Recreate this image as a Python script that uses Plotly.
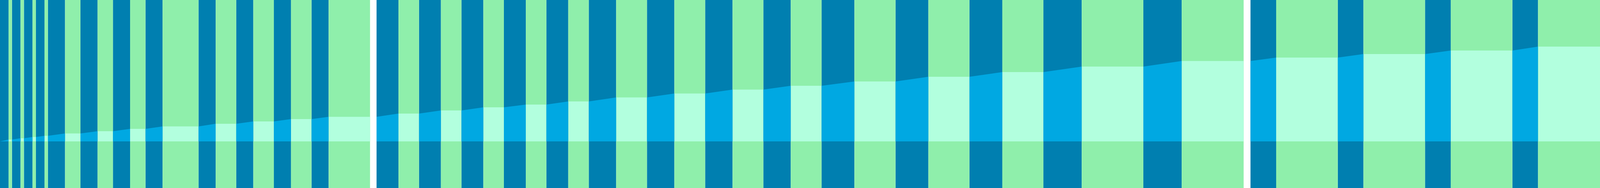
import plotly.graph_objects as go

# dark columns (start, end) and light columns (start, end, band height)
dark_start = [0, 35, 70, 105, 140, 235, 330, 425, 580, 690, 800, 910, 1100, 1224, 1348,
              1472, 1596, 1720, 1890, 2060, 2230, 2400, 2616, 2832, 3048, 3340, 3653, 3908,
              4163, 4418]
dark_end = [25, 60, 95, 130, 190, 285, 380, 475, 630, 740, 850, 960, 1164, 1288, 1412,
            1536, 1660, 1800, 1970, 2140, 2310, 2496, 2712, 2928, 3160, 3452, 3728, 3983,
            4238, 4493]
light_start = [25, 60, 95, 130, 190, 285, 380, 475, 630, 740, 850, 960, 1164, 1288, 1412,
               1536, 1660, 1800, 1970, 2140, 2310, 2496, 2712, 2928, 3160, 3452, 3728, 3983,
               4238, 4493]
light_end = [35, 70, 105, 140, 235, 330, 425, 580, 690, 800, 910, 1081, 1224, 1348, 1472,
             1596, 1720, 1890, 2060, 2230, 2400, 2616, 2832, 3048, 3340, 3633, 3908, 4163,
             4418, 4674]
band_height = [4.7, 8, 11.3, 14.3, 20.3, 26, 32, 38.3, 45, 51, 57, 62.7, 71, 79, 87,
               94, 102, 112.3, 122.3, 132.3, 142, 153, 165, 177, 191, 205.3, 214, 223,
               232, 242]

Y_MIN, Y_MAX = -119, 361

GREEN = "#8fefab"
CYAN = "#b2ffde"
DARK = "#007fb0"
BRIGHT = "#00a8e2"

fig = go.Figure()

# full height columns
fig.add_trace(go.Bar(
    x=[(a + b) / 2 for a, b in zip(dark_start, dark_end)],
    width=[b - a for a, b in zip(dark_start, dark_end)],
    y=[Y_MAX - Y_MIN] * len(dark_start),
    base=Y_MIN,
    marker=dict(color=DARK, line=dict(width=0)),
))
fig.add_trace(go.Bar(
    x=[(a + b) / 2 for a, b in zip(light_start, light_end)],
    width=[b - a for a, b in zip(light_start, light_end)],
    y=[Y_MAX - Y_MIN] * len(light_start),
    base=Y_MIN,
    marker=dict(color=GREEN, line=dict(width=0)),
))

# band inside the light columns
fig.add_trace(go.Bar(
    x=[(a + b) / 2 for a, b in zip(light_start, light_end)],
    width=[b - a for a, b in zip(light_start, light_end)],
    y=band_height,
    base=0,
    marker=dict(color=CYAN, line=dict(width=0)),
))

# band inside the dark columns: ramps from the previous height to the next one
xs, ys = [], []
prev = 0
for x0, x1, h in zip(dark_start, dark_end, band_height):
    xs += [x0, x0, x1, x1, x0, None]
    ys += [0, prev, h, 0, 0, None]
    prev = h
fig.add_trace(go.Scatter(
    x=xs, y=ys, mode="lines", fill="toself",
    fillcolor=BRIGHT, line=dict(width=0, color=BRIGHT),
    hoverinfo="skip",
))

fig.update_layout(
    width=4674, height=480,
    margin=dict(l=0, r=0, t=0, b=0),
    barmode="overlay",
    showlegend=False,
    paper_bgcolor="white",
    plot_bgcolor="white",
    xaxis=dict(range=[0, 4674], visible=False, fixedrange=True),
    yaxis=dict(range=[Y_MIN, Y_MAX], visible=False, fixedrange=True),
)

# fit the figure to the actual window
fit_js = (
    "var gd=document.getElementById('{plot_id}');"
    "document.body.style.margin='0';document.body.style.overflow='hidden';"
    "Plotly.relayout(gd,{width:window.innerWidth,height:window.innerHeight});"
)
fig.write_html("out.html", config={"displayModeBar": False}, post_script=fit_js)
